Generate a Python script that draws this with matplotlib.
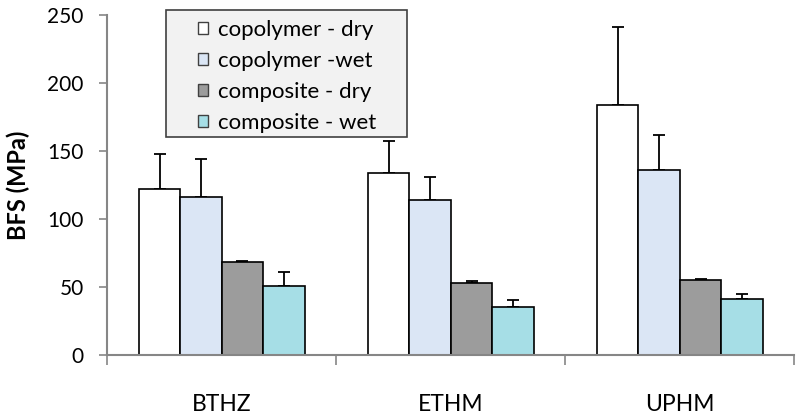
import numpy as np
import matplotlib
matplotlib.use('Agg')
import matplotlib.pyplot as plt
from matplotlib.patches import Rectangle

plt.rcParams['font.family'] = ['Lato', 'DejaVu Sans']

categories = ['BTHZ', 'ETHM', 'UPHM']
series = ['copolymer - dry', 'copolymer -wet', 'composite - dry', 'composite - wet']
values = [
    [122, 134, 184],   # copolymer - dry
    [116, 114, 136],   # copolymer -wet
    [68, 53, 55],      # composite - dry
    [51, 35, 41],      # composite - wet
]
errors = [
    [26, 23, 57],
    [28, 17, 26],
    [1, 1, 1],
    [10, 5, 4],
]
colors = ['#ffffff', '#dbe6f5', '#9c9c9c', '#a6dee6']

fig = plt.figure(figsize=(8, 4.17), dpi=100)
ax = fig.add_axes([0.134, 0.149, 0.859, 0.815])

x = np.arange(len(categories))
w = 0.181
for i, (vals, errs, c, name) in enumerate(zip(values, errors, colors, series)):
    ax.bar(x + (i - 1.5) * w, vals, w, color=c, edgecolor='black', linewidth=1.2,
           label=name, zorder=2,
           yerr=[np.zeros(len(errs)), errs],
           error_kw=dict(ecolor='black', elinewidth=1.3, capsize=4, capthick=1.3, zorder=1))

ax.set_xlim(-0.5, 2.5)
ax.set_ylim(0, 250)
ax.set_yticks([0, 50, 100, 150, 200, 250])
ax.set_xticks(x)
ax.set_xticklabels(categories, fontsize=16.5)
ax.set_xticks([-0.5, 0.5, 1.5, 2.5], minor=True)
ax.tick_params(axis='x', which='major', length=0, pad=28)
ax.tick_params(axis='x', which='minor', length=7, color='#868686', width=1.2)
ax.tick_params(axis='y', length=6, color='#868686', width=1.2, labelsize=15, pad=11)

for s in ['top', 'right']:
    ax.spines[s].set_visible(False)
for s in ['left', 'bottom']:
    ax.spines[s].set_color('#868686')
    ax.spines[s].set_linewidth(1.5)

ax.set_ylabel('BFS (MPa)', fontsize=17, fontweight='bold', labelpad=12)

# legend frame drawn separately to get the wide side padding of the original
ax.add_patch(Rectangle((0.2075, 0.6715), 0.301, 0.3046, transform=fig.transFigure,
                       facecolor='#f2f2f2', edgecolor='#404040', linewidth=1.2,
                       zorder=5, clip_on=False))
leg = ax.legend(loc='upper left', bbox_to_anchor=(0.247, 0.953), bbox_transform=fig.transFigure,
                fontsize=16, frameon=False,
                handlelength=0.48, handleheight=0.48, handletextpad=0.45,
                labelspacing=0.5, borderpad=0, borderaxespad=0)
leg.set_zorder(6)
for h in leg.legend_handles:
    h.set_linewidth(1.0)
    h.set_edgecolor('#404040')

fig.savefig('out.png', dpi=100)
